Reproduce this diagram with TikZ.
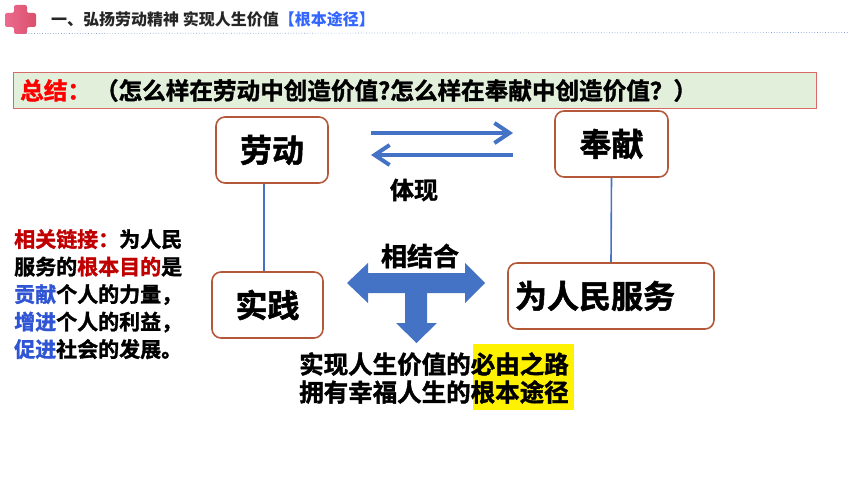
\documentclass[tikz,border=0pt]{standalone}
\usepackage{fontspec}
\setmainfont{Noto Sans CJK SC}
\newfontfamily\heavy{Noto Sans CJK SC Bold}[FakeBold=1.5]
\usetikzlibrary{arrows.meta}

\definecolor{arrowblue}{HTML}{4472C4}
\definecolor{boxbrown}{HTML}{B4583A}
\definecolor{sumred}{HTML}{D86A6A}
\definecolor{sumgreen}{HTML}{E2EFDA}
\definecolor{linkred}{HTML}{C00000}
\definecolor{linkblue}{HTML}{2F55D4}
\definecolor{titleblue}{HTML}{3366FF}
\definecolor{headgray}{HTML}{262626}
\definecolor{iconpink}{HTML}{EC6A90}
\definecolor{iconred}{HTML}{D9506A}

\begin{document}
\begin{tikzpicture}[x=1pt,y=-1pt,
    box/.style={draw=boxbrown,line width=1.6pt,rounded corners=9pt,minimum width=112pt,minimum height=66pt,font=\fontsize{32}{32}\selectfont\heavy},
    link/.style={draw=arrowblue,line width=1.6pt},
    flow/.style={draw=arrowblue,line width=4pt,-{Straight Barb[length=15pt,width=20pt]}},
    plain/.style={inner sep=0pt,font=\bfseries}]
      \useasboundingbox (0,0) rectangle (860,484);

      \shade [left color=iconpink,right color=iconred,rounded corners=2pt]
        (14,5) -- (27,5) -- (27,13) -- (36,13) -- (36,27) -- (27,27) -- (27,34)
        -- (14,34) -- (14,27) -- (5,27) -- (5,13) -- (14,13) -- cycle;
      \draw [dotted,arrowblue!70,line width=0.7pt] (26,33.5) -- (849,32.5);

      \node [plain,anchor=west,text=headgray,font=\fontsize{16}{16}\selectfont\bfseries] (title) at (51,19)
        {一、弘扬劳动精神 实现人生价值\textcolor{titleblue}{【根本途径】}};

      \node [draw=sumred,fill=sumgreen,line width=1pt,anchor=north west,minimum width=803pt,minimum height=36pt,inner sep=0pt] (summary) at (13,72) {};
      \node [plain,anchor=west,font=\fontsize{23.6}{23.6}\selectfont\heavy] (question) at ([xshift=7pt]summary.west)
        {\textcolor{red}{总结：}\hspace{4pt}（怎么样在劳动中创造价值?怎么样在奉献中创造价值？）};

      \node [box] (laodong) at (272,150) {劳动};
      \node [box,minimum width=113pt] (fengxian) at (611.5,144) {奉献};
      \node [box,minimum width=111pt] (shijian) at (267.5,305) {实践};
      \node [box,minimum width=206pt,text width=192pt,inner xsep=7pt,align=left] (fuwu) at (611,296) {为人民服务};

      \draw [link] ([xshift=-8pt]laodong.south) -- ([xshift=-3.5pt]shijian.north);
      \draw [link] (fengxian.south) -- (fuwu.north);

      \coordinate (r1) at (371,133);
      \coordinate (r2) at (513,133);
      \coordinate (l1) at (513,155);
      \coordinate (l2) at (371,155);
      \draw [flow] (r1) -- (r2);
      \draw [flow] (l1) -- (l2);
      \node [plain,font=\fontsize{24}{24}\selectfont\heavy] (tixian) at (414,190) {体现};

      \fill [arrowblue] (347,283) -- (368,263) -- (368,273) -- (465,273) -- (465,263) -- (485,283)
        -- (465,303) -- (465,293) -- (427,293) -- (427,323) -- (437,323) -- (416.5,343)
        -- (396,323) -- (405,323) -- (405,293) -- (368,293) -- (368,303) -- cycle;
      \node [plain,font=\fontsize{26}{26}\selectfont\heavy] (xiangjiehe) at (420,256) {相结合};

      \fill [yellow] (473,344) rectangle (574,410);
      \node [plain,anchor=west,align=left,font=\fontsize{24.5}{28}\selectfont\heavy] (result) at (299,378)
        {实现人生价值的必由之路\\拥有幸福人生的根本途径};

      \node [plain,anchor=north west,align=left,font=\fontsize{21}{27.5}\selectfont\heavy] (lianjie) at (14,229)
        {\textcolor{linkred}{相关链接：}为人民\\
         服务的\textcolor{linkred}{根本目的}是\\
         \textcolor{linkblue}{贡献}个人的力量，\\
         \textcolor{linkblue}{增进}个人的利益，\\
         \textcolor{linkblue}{促进}社会的发展。};
    \end{tikzpicture}
\end{document}
